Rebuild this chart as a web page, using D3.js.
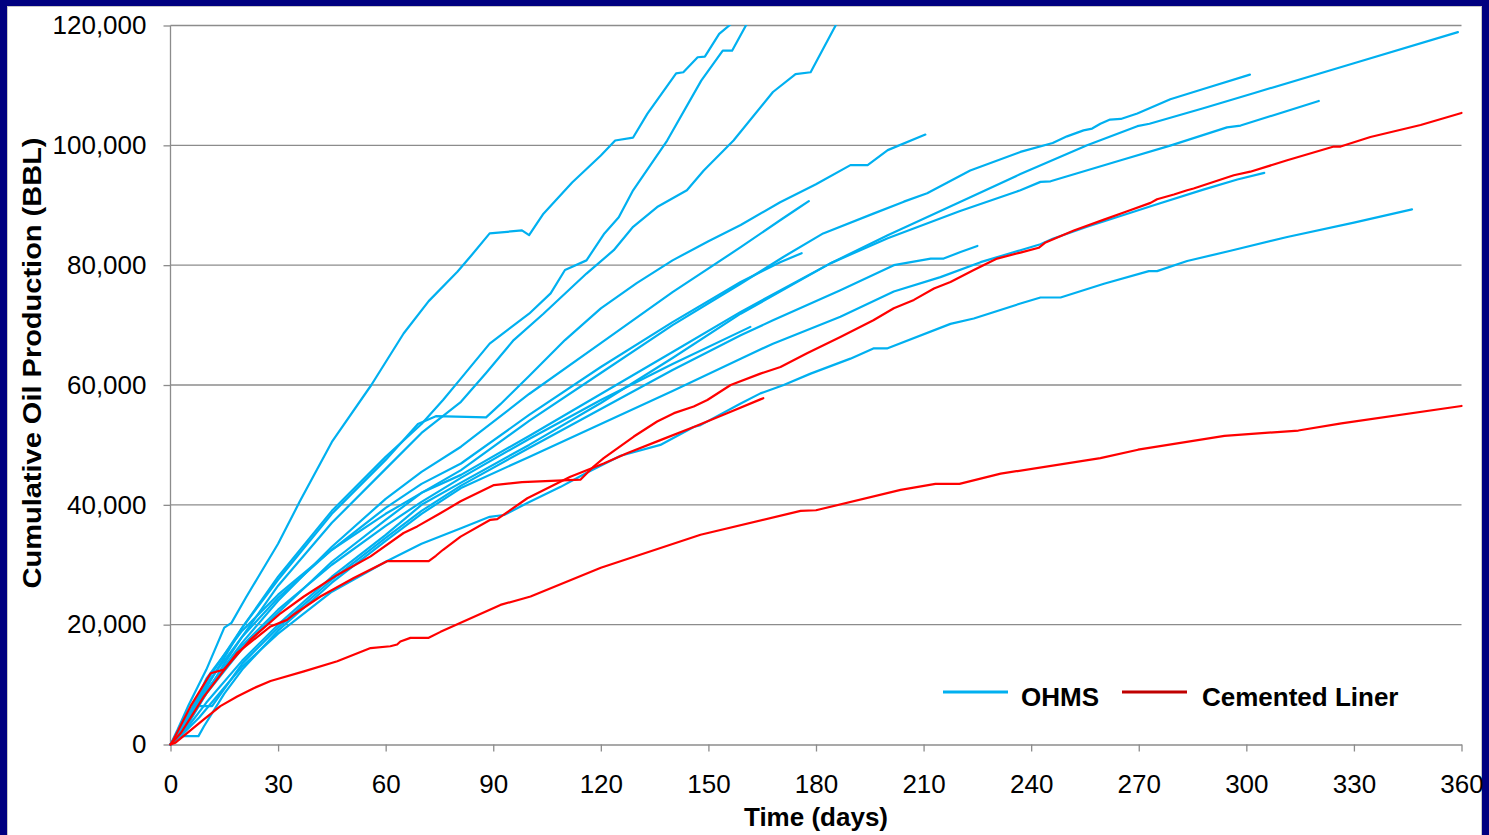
<!DOCTYPE html>
<html><head><meta charset="utf-8">
<script src="https://cdn.jsdelivr.net/npm/d3@7"></script>
<style>html,body{margin:0;padding:0;background:#000080;overflow:hidden} svg{display:block}</style>
</head><body><svg id="c" width="1489" height="835"></svg>
<script>
const xTicks = [0,30,60,90,120,150,180,210,240,270,300,330,360];
const yTicks = [0,20000,40000,60000,80000,100000,120000];
const xTitle = "Time (days)";
const yTitle = "Cumulative Oil Production (BBL)";
const legendLabels = ["OHMS","Cemented Liner"];

// OHMS wells: [day, cumulative BBL]
const ohms1 = [[0,0],[2,2500],[5,6500],[10,12500],[15,19500],[17,20300],[21,24500],[25,28500],[30,33500],[36,40500],[45,50500],[56,60000],[65,68600],[72,74000],[80,78900],[84,81700],[89,85300],[98,85800],[100,85000],[104,88600],[112,93800],[120,98300],[124,100800],[129,101300],[133,105300],[141,112000],[143,112200],[147,114700],[149,114800],[153,118600],[157,120600]];
const ohms2 = [[0,0],[3,2000],[8,7500],[15,14500],[20,19500],[30,28000],[45,39000],[60,48000],[70,53500],[76,57500],[81,61100],[89,66900],[100,71900],[106,75300],[110,79200],[116,80800],[121,85300],[125,88000],[129,92500],[138.5,100800],[148,110800],[154,115800],[156.6,115800],[161,120600]];
const ohms3 = [[0,0],[3,1500],[8,6500],[15,13500],[20,18000],[30,26500],[45,37000],[60,46000],[70,52000],[81,57200],[88,62000],[95.7,67500],[104,71900],[116,78600],[123.6,82500],[129,86400],[135.7,89700],[144,92500],[148.7,95800],[157,100800],[168,108900],[174.3,111900],[178.5,112200],[186,120600]];
const ohms4 = [[0,0],[4,4000],[10,10500],[20,19500],[30,27500],[45,38500],[60,47500],[69,53500],[74,54800],[88,54600],[92,56800],[100,61500],[110,67500],[120,72800],[130,77000],[140,80800],[150,84000],[159,86700],[170,90500],[180,93500],[189.6,96700],[194.4,96700],[200,99200],[210.5,101800]];
const ohms5 = [[0,0],[4,3000],[10,9000],[20,17000],[30,24000],[45,33000],[60,41000],[70,45500],[81,49700],[100,58500],[120,67000],[140,75500],[159,83000],[170,87500],[175,89500],[178,90700]];
const ohms6 = [[0,0],[4,3500],[10,10000],[20,18000],[30,24500],[45,32500],[60,39500],[70,43500],[81,46900],[100,55000],[120,63000],[140,70500],[159,77200],[170,80500],[176,82000]];
const ohms7 = [[0,0],[3,2500],[10,8500],[20,16000],[30,22000],[45,30500],[60,37500],[70,42000],[81,45800],[100,54000],[120,62000],[140,70000],[159,76900],[171,81400],[182,85300],[196,88600],[204.5,90600],[211,92000],[223,95800],[237,98900],[246,100400],[250,101500],[254.6,102500],[257,102800],[259.3,103600],[262,104300],[265,104400],[269.6,105300],[278.8,107700],[288,109400],[301,111800]];
const ohms8 = [[0,0],[3,2000],[10,11000],[20,19000],[30,25000],[45,32500],[60,38500],[70,42000],[81,45000],[100,51500],[120,58500],[140,65500],[159,72200],[184,80300],[200,85000],[220,90500],[237,95200],[255.6,100000],[269.6,103200],[273,103600],[288,106200],[302,108700],[330,113700],[359,118900]];
const ohms9 = [[0,0],[3,1500],[10,7000],[20,14000],[30,20000],[45,28000],[60,35000],[70,40000],[81,43700],[100,50000],[120,57000],[140,64500],[159,71900],[184,80300],[200,84500],[220,89000],[237,92500],[242.6,93900],[245.4,94000],[251,95000],[265,97500],[279,100000],[294.6,103000],[298.4,103300],[320.2,107400]];
const ohms10 = [[0,0],[3,2000],[10,9000],[20,16500],[30,22500],[45,30000],[60,36500],[70,40500],[81,44500],[100,51000],[120,57500],[140,63500],[161.7,69700]];
const ohms11 = [[0,0],[4,3000],[7.8,6400],[11.6,6400],[20,13500],[30,19500],[45,27500],[60,34500],[70,39000],[81,43200],[100,49500],[120,56000],[140,62500],[159,68300],[168,70800],[186.8,75800],[201.7,80000],[212,81100],[215.6,81100],[220.3,82200],[225,83200]];
const ohms12 = [[0,0],[1.4,1400],[7.8,1400],[9.3,3000],[15,8500],[20,12500],[30,19000],[45,27000],[60,34000],[70,38500],[81,42800],[100,48000],[120,53500],[140,59000],[159,64400],[168,66900],[186.8,71400],[201.7,75600],[214.7,78000],[225.9,80500],[237,82500],[242.6,83500],[246,84400],[255.6,86400],[274.2,90000],[288,92600],[297.5,94300],[305,95400]];
const ohms13 = [[0,0],[3,1500],[8,4500],[15,9500],[20,13000],[30,18500],[45,25500],[60,30500],[70,33500],[81,36100],[89,38000],[93,38300],[99.5,40300],[108.8,43000],[116.2,45400],[125.5,48200],[136.6,50000],[145.9,53000],[147.8,53300],[159,56900],[164.5,58600],[171,60000],[178.5,61900],[189.6,64400],[196,66100],[199.8,66100],[217.5,70200],[224,71100],[237,73600],[242.6,74600],[248.2,74600],[260.3,76900],[272.8,79000],[275.1,79000],[283.5,80700],[295.6,82400],[311.4,84700],[330,87100],[346.2,89300]];

// Cemented liner wells
const liner1 = [[0,0],[0.8,800],[5.6,6400],[11.2,11900],[14.9,12500],[22.3,17500],[30.7,21900],[37.2,24700],[46.5,28300],[55.8,31400],[65,35300],[68.8,36400],[75,38500],[80.9,40600],[90.2,43300],[98,43800],[114.3,44200],[118,46400],[120.8,47800],[129.2,51400],[135.7,53900],[140.4,55300],[145.9,56400],[149.7,57500],[156.2,60000],[164.5,61900],[170.1,63000],[177.5,65300],[186.8,68000],[196,70800],[201.7,72800],[207.3,74200],[212.9,76100],[217.5,77200],[224,79200],[230.5,81100],[237,82100],[242.1,82900],[244,83800],[251.9,85800],[260.3,87600],[266.8,89000],[273.3,90400],[275.1,91000],[279.8,91800],[283.5,92500],[285.3,92800],[296.5,95000],[301.1,95600],[311.4,97500],[324.4,99800],[326.3,99800],[334.6,101400],[348.6,103400],[360,105400]];
const liner2 = [[0,0],[3,2000],[9.3,8000],[18.6,15300],[27.9,19700],[32.5,20800],[34.4,21700],[41.8,24700],[51.1,27800],[60.4,30600],[63,30600],[72,30600],[74,31500],[76,32500],[80.9,34700],[89.2,37500],[91.1,37600],[99.5,41100],[111.5,44700],[120.8,46900],[127.3,48600],[136.6,50800],[145.9,53000],[155.2,55300],[164.5,57600],[165.3,57800]];
const liner3 = [[0,0],[1.4,300],[9.3,4200],[13.9,6400],[18.6,8000],[23.2,9400],[27.9,10600],[37.2,12200],[46.5,13900],[55.8,16100],[61.3,16400],[63.2,16700],[64.1,17200],[66.9,17800],[72,17800],[75.3,18800],[92,23300],[100.4,24700],[120,29500],[147.8,35000],[175.7,39000],[180,39100],[203.6,42500],[213.3,43500],[220,43500],[231.5,45200],[259.3,47800],[269.8,49200],[293.9,51500],[314.5,52400],[326.5,53600],[360,56500]];

const ohmsSeries = [ohms1,ohms2,ohms3,ohms4,ohms5,ohms6,ohms7,ohms8,ohms9,ohms10,ohms11,ohms12,ohms13];
const linerSeries = [liner1,liner2,liner3];

const BLUE = "#00b0f0", RED = "#ff0000", LEGRED = "#c00000", GRID = "#8c8c8c";
const FONT = "'Liberation Sans', Arial, sans-serif";

const svg = d3.select("#c");
svg.append("rect").attr("x",0).attr("y",0).attr("width",1489).attr("height",835).attr("fill","#000080");
svg.append("rect").attr("x",7.5).attr("y",6.5).attr("width",1474).attr("height",840).attr("fill","#fff").attr("stroke","#c8c8c8").attr("stroke-width",1);

const x = d3.scaleLinear().domain([0,360]).range([170.5,1461.5]);
const y = d3.scaleLinear().domain([0,120000]).range([744.5,25.5]);

// gridlines
svg.append("g").selectAll("line").data(yTicks.filter(d=>d>0)).join("line")
  .attr("x1",170.5).attr("x2",1461.5).attr("y1",d=>y(d)).attr("y2",d=>y(d))
  .attr("stroke",GRID).attr("stroke-width",1.3);

// axes
const yAxis = d3.axisLeft(y).tickValues(yTicks).tickFormat(d3.format(",")).tickSizeInner(7).tickSizeOuter(0).tickPadding(17);
const gy = svg.append("g").attr("transform","translate(170.5,0)").call(yAxis);
const xAxis = d3.axisBottom(x).tickValues(xTicks).tickFormat(d3.format("d")).tickSizeInner(7).tickSizeOuter(0).tickPadding(23);
const gx = svg.append("g").attr("transform","translate(0,744.5)").call(xAxis);
[gx,gy].forEach(g=>{
  g.selectAll("path.domain").attr("stroke",GRID).attr("stroke-width",1.3);
  g.selectAll(".tick line").attr("stroke",GRID).attr("stroke-width",1.3);
  g.selectAll("text").attr("font-family",FONT).attr("font-size",26).attr("fill","#000");
});
gy.select(".domain").attr("d","M0,25.5V744.5");
gx.selectAll("text").attr("dy","0.72em");

// clip
svg.append("clipPath").attr("id","clip").append("rect").attr("x",165).attr("y",25).attr("width",1305).attr("height",725);

const line = d3.line().x(d=>x(d[0])).y(d=>y(d[1]));
const plot = svg.append("g").attr("clip-path","url(#clip)").attr("fill","none").attr("stroke-linejoin","round").attr("stroke-linecap","round");
plot.selectAll("path.o").data(ohmsSeries).join("path").attr("class","o")
  .attr("d",line).attr("stroke",BLUE).attr("stroke-width",2.2);
plot.selectAll("path.l").data(linerSeries).join("path").attr("class","l")
  .attr("d",line).attr("stroke",RED).attr("stroke-width",2.2);

// titles
svg.append("text").attr("x",816).attr("y",826).attr("text-anchor","middle")
  .attr("font-family",FONT).attr("font-weight","bold").attr("font-size",26).text(xTitle);
svg.append("text").attr("transform","translate(41,363) rotate(-90)").attr("text-anchor","middle")
  .attr("font-family",FONT).attr("font-weight","bold").attr("font-size",26)
  .attr("textLength",451).attr("lengthAdjust","spacingAndGlyphs").text(yTitle);

// legend
const leg = svg.append("g");
leg.append("line").attr("x1",943).attr("x2",1008).attr("y1",692).attr("y2",692).attr("stroke",BLUE).attr("stroke-width",3);
leg.append("text").attr("x",1021).attr("y",706).attr("font-family",FONT).attr("font-weight","bold").attr("font-size",26).text(legendLabels[0]);
leg.append("line").attr("x1",1122).attr("x2",1187).attr("y1",692).attr("y2",692).attr("stroke",LEGRED).attr("stroke-width",3);
leg.append("text").attr("x",1202).attr("y",706).attr("font-family",FONT).attr("font-weight","bold").attr("font-size",26).text(legendLabels[1]);
</script></body></html>
